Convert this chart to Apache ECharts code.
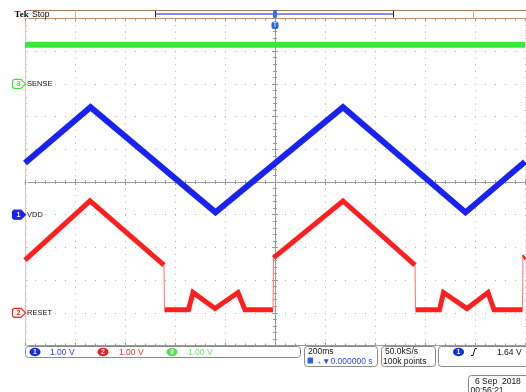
<!DOCTYPE html>
<html><head><meta charset="utf-8">
<script src="https://cdn.jsdelivr.net/npm/echarts@6/dist/echarts.min.js"></script>
<style>html,body{margin:0;padding:0;background:#fff}#c{width:526px;height:392px}</style>
</head><body><div id="c"></div>
<script>
// ---- scope settings ----
const timeMin = -1.0, timeMax = 1.0, timePerDiv = 0.2;   // s (200 ms/div)
const divMin = -5, divMax = 5;
const voltsPerDiv = 1.0;
const channelOffsets = { sense: 3, vdd: -1, reset: -4 };   // divisions

// ---- channel data (time s, volts) ----
const senseTimes = [-1.0, -0.5, 0.0, 0.5, 1.0];
const senseVolts = [1.2, 1.2, 1.2, 1.2, 1.2];

const vddTimes = [-1.0, -0.738, -0.238, 0.272, 0.762, 1.0];
const vddVolts = [1.58, 3.29, 0.07, 3.29, 0.07, 1.62];

const resetTimes = [-1.0, -0.74, -0.444, -0.442, -0.346, -0.328, -0.24, -0.148, -0.12, -0.008, -0.006,
                    0.272, 0.56, 0.562, 0.658, 0.674, 0.768, 0.852, 0.876, 0.990, 0.992, 1.0];
const resetVolts = [1.61, 3.42, 1.46, 0.09, 0.09, 0.62, 0.13, 0.62, 0.09, 0.09, 1.68,
                    3.42, 1.46, 0.09, 0.09, 0.62, 0.13, 0.62, 0.09, 0.09, 1.68, 1.72];

// ---- readouts ----
const chScaleLabels = ['1.00 V', '1.00 V', '1.00 V'];
const markerLabels = ['SENSE', 'VDD', 'RESET'];
const timebaseText = '200ms';
const delayText = '\u2192\u25BC0.000000 s';
const sampleRateText = '50.0kS/s';
const recordText = '100k points';
const triggerLevelText = '1.64 V';
const dateText = '6 Sep  2018';
const clockText = '00:56:21';

const BLUE = '#1a22f2', RED = '#ff1f1f', GREEN = '#38e838';

function toPts(times, volts, off) {
  return times.map((t, i) => [t, volts[i] / voltsPerDiv + off]);
}
const redPts = toPts(resetTimes, resetVolts, channelOffsets.reset);
const redMain = [], redEdges = [];
for (let i = 0; i < redPts.length; i++) {
  if (i > 0 && redPts[i][0] - redPts[i - 1][0] < 0.005) {
    redMain.push(null);
    redEdges.push(redPts[i - 1], redPts[i], null);
  }
  redMain.push(redPts[i]);
}

const chart = echarts.init(document.getElementById('c'), null, { renderer: 'canvas' });
const GRAY = '#9a9a9a', DOT = '#b4b4b4';
function xAx(position, onZero, inside, color, split) {
  return {
    type: 'value', min: timeMin, max: timeMax, interval: timePerDiv, position,
    axisLine: { show: true, onZero, lineStyle: { color, width: 1 } },
    axisTick: { show: true, inside, length: 3, lineStyle: { color } },
    minorTick: { show: true, splitNumber: 5, length: 2, lineStyle: { color } },
    axisLabel: { show: false },
    splitLine: { show: split, lineStyle: { color: DOT, type: [1, 5.54], width: 1 } }
  };
}
function yAx(position, onZero, inside, color, split) {
  return {
    type: 'value', min: divMin, max: divMax, interval: 1, position,
    axisLine: { show: true, onZero, lineStyle: { color, width: 1 } },
    axisTick: { show: true, inside, length: 3, lineStyle: { color } },
    minorTick: { show: true, splitNumber: 5, length: 2, lineStyle: { color } },
    axisLabel: { show: false },
    splitLine: { show: split, lineStyle: { color: DOT, type: [1, 9], width: 1 } }
  };
}

const lineSeries = (name, data, color, width, z) => ({
  name, type: 'line', data, xAxisIndex: 0, yAxisIndex: 0, showSymbol: false, symbol: 'none',
  animation: false, z, connectNulls: false,
  lineStyle: { color, width, join: 'miter', cap: 'butt' }
});

chart.setOption({
  animation: false,
  backgroundColor: '#ffffff',
  grid: { left: 25, top: 18.5, width: 500, height: 327, containLabel: false },
  xAxis: [
    xAx('bottom', true, true, GRAY, true),
    xAx('bottom', true, false, GRAY, false),
    xAx('top', false, true, '#b89070', false),
    xAx('bottom', false, true, GRAY, false)
  ],
  yAxis: [
    yAx('left', true, true, GRAY, true),
    yAx('left', true, false, GRAY, false),
    yAx('left', false, true, '#e8c4c4', false)
  ],
  series: [
    lineSeries('SENSE', toPts(senseTimes, senseVolts, channelOffsets.sense), GREEN, 6, 3),
    lineSeries('VDD', toPts(vddTimes, vddVolts, channelOffsets.vdd), BLUE, 6, 4),
    lineSeries('RESET', redMain, RED, 5, 5),
    lineSeries('RESET edges', redEdges, '#ff7070', 1, 5)
  ]
});

// ---- decorations (scope UI) ----
const yS = chart.convertToPixel({ yAxisIndex: 0 }, channelOffsets.sense);
const yV = chart.convertToPixel({ yAxisIndex: 0 }, channelOffsets.vdd);
const yR = chart.convertToPixel({ yAxisIndex: 0 }, channelOffsets.reset);
const xT = chart.convertToPixel({ xAxisIndex: 0 }, 0);
const F = '"Liberation Sans", Arial, sans-serif';

function tag(y, color, filled, num) {
  return [
    { type: 'polygon', shape: { points: [[14, y - 4.5], [21, y - 4.5], [25.5, y], [21, y + 4.5], [14, y + 4.5], [12.5, y + 3], [12.5, y - 3]] },
      style: { fill: filled ? color : '#fff', stroke: color, lineWidth: 1.2 }, z: 20 },
    { type: 'text', style: { text: num, x: 18.5, y: y + 0.5, fill: filled ? '#fff' : color, font: 'bold 7px ' + F, align: 'center', verticalAlign: 'middle' }, z: 21 }
  ];
}
function badge(cx, cy, color, num) {
  return [
    { type: 'ellipse', shape: { cx, cy, rx: 5.5, ry: 4.2 }, style: { fill: color }, z: 20 },
    { type: 'text', style: { text: num, x: cx, y: cy + 0.5, fill: '#fff', font: 'bold 7px ' + F, align: 'center', verticalAlign: 'middle' }, z: 21 }
  ];
}
function txt(t, x, y, color, size, bold) {
  return { type: 'text', style: { text: t, x, y, fill: color, font: (bold ? 'bold ' : '') + size + 'px ' + F, align: 'left', verticalAlign: 'middle' }, z: 21 };
}
function box(x, y, w, h) {
  return { type: 'rect', shape: { x, y, width: w, height: h, r: 3 }, style: { fill: 'none', stroke: '#8a8a8a', lineWidth: 1 }, z: 20 };
}
function ln(x1, y1, x2, y2, color, w) {
  return { type: 'line', shape: { x1, y1, x2, y2 }, style: { stroke: color, lineWidth: w || 1 }, z: 20 };
}

const g = [];
// top record bar
g.push(ln(25, 10.5, 526, 10.5, '#a87858'));
g.push(ln(75.5, 10.5, 75.5, 18.5, '#d4b09a'));
g.push(ln(473.5, 10.5, 473.5, 18.5, '#d4b09a'));
g.push(ln(156, 14, 393, 14, '#7f8ef0', 2));
g.push(ln(155.5, 11, 155.5, 17.5, '#222'));
g.push(ln(393.5, 11, 393.5, 17.5, '#222'));
g.push({ type: 'text', style: { text: 'Tek', x: 14.5, y: 14.5, fill: '#000', font: 'bold 9px "Liberation Serif", serif', verticalAlign: 'middle' }, z: 21 });
g.push(txt('Stop', 32, 14.3, '#000', 8.5));
// trigger position marker
g.push({ type: 'rect', shape: { x: xT - 2, y: 10, width: 4, height: 8, r: 1.5 }, style: { fill: '#3a70e8' }, z: 21 });
g.push({ type: 'rect', shape: { x: xT - 3.5, y: 21.5, width: 7, height: 7.5, r: 2.5 }, style: { fill: '#2a62e6' }, z: 21 });
g.push({ type: 'text', style: { text: 'T', x: xT, y: 25.6, fill: '#cfe0ff', font: 'bold 6.5px ' + F, align: 'center', verticalAlign: 'middle' }, z: 22 });
// channel ground markers
g.push(...tag(yS, GREEN, false, '3'), txt(markerLabels[0], 27, yS, '#111', 7.5));
g.push(...tag(yV, BLUE, true, '1'), txt(markerLabels[1], 27, yV, '#111', 7.5));
g.push(...tag(yR, RED, false, '2'), txt(markerLabels[2], 27, yR, '#111', 7.5));
// bottom readouts
g.push(box(25.5, 346.5, 275, 11));
g.push(...badge(35, 352, '#1030e0', '1'), txt(chScaleLabels[0], 50, 352.3, '#2a3ee8', 8.5));
g.push(...badge(103, 352, '#e82020', '2'), txt(chScaleLabels[1], 119, 352.3, '#f03030', 8.5));
g.push(...badge(172, 352, '#50e050', '3'), txt(chScaleLabels[2], 188, 352.3, '#70e870', 8.5));
g.push(box(304.5, 346.5, 73, 20));
g.push(txt(timebaseText, 308, 351.8, '#111', 8.5));
g.push({ type: 'rect', shape: { x: 307.5, y: 357.5, width: 5.5, height: 6, r: 0.5 }, style: { fill: '#2a62e6' }, z: 21 });
g.push(txt(delayText, 313.5, 361.2, '#2a4ee8', 8.5));
g.push(box(381.5, 346.5, 54, 20));
g.push(txt(sampleRateText, 385, 351.8, '#111', 8.5));
g.push(txt(recordText, 383, 361.2, '#111', 8.5));
g.push(box(438.5, 346.5, 92, 20));
g.push(...badge(458.5, 352, '#1030e0', '1'));
g.push({ type: 'polyline', shape: { points: [[471, 355.5], [473, 355.5], [475, 348.5], [477, 348.5]] }, style: { stroke: '#111', lineWidth: 1 }, z: 21 });
g.push(txt(triggerLevelText, 497, 352.3, '#111', 8.5));
g.push(box(468.5, 375.5, 62, 20));
g.push(txt(dateText, 475, 381.5, '#111', 8.5));
g.push(txt(clockText, 470.5, 390.5, '#111', 8.5));

chart.setOption({ graphic: { elements: g } });
</script>
</body></html>
